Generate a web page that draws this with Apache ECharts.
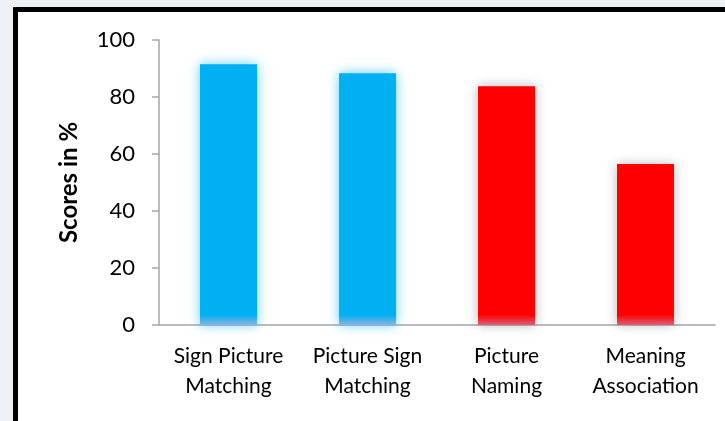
<!DOCTYPE html>
<html>
<head>
<meta charset="utf-8">
<script src="https://cdn.jsdelivr.net/npm/echarts@6/dist/echarts.min.js"></script>
<style>
html,body{margin:0;padding:0;width:725px;height:421px;overflow:hidden;background:#eef1f4;}
#frame{position:absolute;left:13px;top:7px;width:800px;height:500px;border:5px solid #000;background:#fff;}
#chart{position:absolute;left:0;top:0;width:725px;height:421px;}
</style>
</head>
<body>
<div id="frame"></div>
<div id="chart"></div>
<script>
const categories = ['Sign Picture\nMatching', 'Picture Sign\nMatching', 'Picture\nNaming', 'Meaning\nAssociation'];
const scores = [91.5, 88.3, 83.8, 56.5];
const barColors = ['#00b0f0', '#00b0f0', '#ff0000', '#ff0000'];
const bottomColors = ['#8db3e2', '#8db3e2', '#d9607a', '#d9607a'];
const glowColors = ['rgba(0,176,240,0.6)', 'rgba(0,176,240,0.6)', 'rgba(0,0,0,0.28)', 'rgba(0,0,0,0.28)'];
const yTicks = [0, 20, 40, 60, 80, 100];

const chart = echarts.init(document.getElementById('chart'));
const font = 'Lato, "Open Sans", sans-serif';
chart.setOption({
  backgroundColor: 'transparent',
  animation: false,
  grid: {left: 159, right: 10, top: 40, bottom: 96},
  xAxis: {
    type: 'category',
    data: categories,
    axisLine: {lineStyle: {color: '#a6a6a6', width: 1.5}},
    axisTick: {length: 7, lineStyle: {color: '#a6a6a6', width: 1.5}},
    axisLabel: {interval: 0, color: '#000', fontFamily: font, fontSize: 21, lineHeight: 30, margin: 16}
  },
  yAxis: {
    type: 'value',
    min: yTicks[0], max: yTicks[yTicks.length - 1], interval: 20,
    name: 'Scores in %',
    nameLocation: 'middle',
    nameGap: 78,
    nameTextStyle: {fontFamily: font, fontSize: 24, fontWeight: 'bold', color: '#000'},
    axisLine: {show: true, lineStyle: {color: '#a6a6a6', width: 1.5}},
    axisTick: {show: true, length: 7, lineStyle: {color: '#a6a6a6', width: 1.5}},
    splitLine: {show: false},
    axisLabel: {color: '#000', fontFamily: font, fontSize: 22, margin: 24}
  },
  series: [{
    type: 'bar',
    barWidth: 57,
    data: scores.map((v, i) => ({
      value: v,
      itemStyle: {
        color: new echarts.graphic.LinearGradient(0, 0, 0, 1, [
          {offset: 0, color: barColors[i]},
          {offset: 1 - 10 / (v * 2.85), color: barColors[i]},
          {offset: 1, color: bottomColors[i]}
        ]),
        shadowColor: glowColors[i],
        shadowBlur: 11
      }
    }))
  }]
});
</script>
</body>
</html>
